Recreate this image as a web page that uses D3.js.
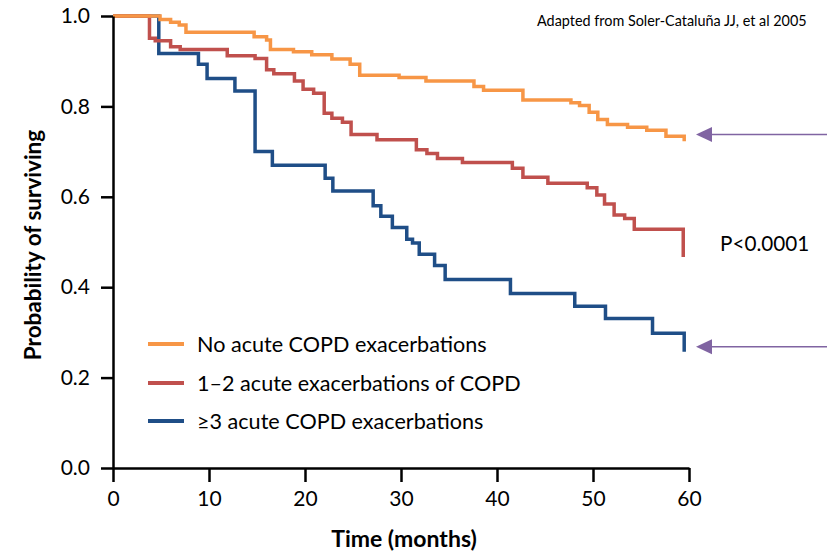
<!DOCTYPE html>
<html>
<head>
<meta charset="utf-8">
<script src="https://cdn.jsdelivr.net/npm/d3@7"></script>
<style>
  html, body { margin: 0; padding: 0; background: #fff; }
  svg { display: block; }
  text { font-family: Lato, "Open Sans", sans-serif; fill: #000; }
</style>
</head>
<body>
<svg id="chart" width="827" height="552"></svg>
<script>
// ---- Data ----
const seriesNames = ["No acute COPD exacerbations", "1\u20132 acute exacerbations of COPD", "\u22653 acute COPD exacerbations"];

const noneTimes = [0, 4.9, 6.0, 6.9, 7.6, 14.7, 16.0, 16.4, 18.8, 20.7, 22.8, 24.7, 25.7, 29.8, 32.6, 37.6, 38.6, 42.7, 47.7, 48.6, 49.6, 50.5, 51.5, 53.6, 55.6, 57.6, 59.5];
const noneSurv  = [1.0, 0.992, 0.986, 0.980, 0.964, 0.954, 0.947, 0.926, 0.921, 0.914, 0.905, 0.893, 0.869, 0.864, 0.856, 0.844, 0.836, 0.814, 0.808, 0.802, 0.787, 0.771, 0.760, 0.754, 0.747, 0.734, 0.723];

const oneTwoTimes = [0, 3.8, 4.4, 6.0, 7.0, 11.9, 14.8, 16.0, 16.75, 18.9, 19.8, 20.9, 22.0, 22.8, 23.9, 24.8, 27.5, 31.6, 32.7, 33.8, 36.4, 41.6, 42.7, 45.3, 49.4, 50.4, 51.2, 52.2, 53.3, 54.3, 59.4];
const oneTwoSurv  = [1.0, 0.951, 0.945, 0.932, 0.926, 0.912, 0.906, 0.881, 0.872, 0.856, 0.838, 0.829, 0.785, 0.774, 0.765, 0.738, 0.726, 0.704, 0.696, 0.685, 0.676, 0.663, 0.643, 0.630, 0.620, 0.604, 0.584, 0.560, 0.552, 0.528, 0.467];

const threeTimes = [0, 4.77, 8.9, 9.8, 12.7, 14.8, 16.6, 22.1, 22.9, 27.1, 27.9, 29.1, 30.6, 31.2, 31.9, 33.5, 34.6, 41.4, 48.1, 51.3, 56.2, 59.5];
const threeSurv  = [1.0, 0.917, 0.893, 0.862, 0.834, 0.700, 0.670, 0.641, 0.613, 0.580, 0.557, 0.532, 0.506, 0.498, 0.473, 0.448, 0.417, 0.386, 0.358, 0.331, 0.298, 0.257];

const xTicks = [0, 10, 20, 30, 40, 50, 60];
const yTicks = [0.0, 0.2, 0.4, 0.6, 0.8, 1.0];
const arrowLevels = [0.738, 0.268];
const pValueText = "P<0.0001";
const sourceText = "Adapted from Soler-Catalu\u00f1a JJ, et al 2005";
const xTitle = "Time (months)";
const yTitle = "Probability of surviving";

// ---- Drawing ----
const colors = ["#F79646", "#C0504D", "#1F4E87"];
const series = [
  {name: seriesNames[0], times: noneTimes, surv: noneSurv, color: colors[0]},
  {name: seriesNames[1], times: oneTwoTimes, surv: oneTwoSurv, color: colors[1]},
  {name: seriesNames[2], times: threeTimes, surv: threeSurv, color: colors[2]}
];

const svg = d3.select("#chart");
const x = d3.scaleLinear().domain([0, 60]).range([113, 689]);
const y = d3.scaleLinear().domain([0, 1]).range([468, 16]);

const line = d3.line()
  .x(d => x(d[0]))
  .y(d => y(d[1]))
  .curve(d3.curveStepAfter);

series.slice().reverse().forEach(s => {
  const pts = s.times.map((t, i) => [t, s.surv[i]]);
  svg.append("path")
    .attr("d", line(pts))
    .attr("fill", "none")
    .attr("stroke", s.color)
    .attr("stroke-width", 3.5)
    .attr("stroke-linejoin", "miter")
    .attr("stroke-linecap", "butt");
});

// axes
const yAxis = d3.axisLeft(y).tickValues(yTicks).tickFormat(d3.format(".1f")).tickSize(12).tickSizeOuter(0).tickPadding(11);
const xAxis = d3.axisBottom(x).tickValues(xTicks).tickFormat(d3.format("d")).tickSize(14).tickSizeOuter(0).tickPadding(9);

const gy = svg.append("g").attr("transform", `translate(${x(0)},0)`).call(yAxis);
const gx = svg.append("g").attr("transform", `translate(0,${y(0)})`).call(xAxis);
[gx, gy].forEach(g => {
  g.select(".domain").attr("stroke", "#000").attr("stroke-width", 2.5);
  g.selectAll(".tick line").attr("stroke", "#000").attr("stroke-width", 2.5);
  g.selectAll(".tick text").attr("font-family", "Lato, sans-serif").attr("font-size", 21).attr("fill", "#000");
});

// axis titles
svg.append("text")
  .attr("x", 404).attr("y", 547)
  .attr("text-anchor", "middle")
  .attr("font-size", 23).attr("font-weight", "bold")
  .text(xTitle);
svg.append("text")
  .attr("transform", `translate(41,245) rotate(-90)`)
  .attr("text-anchor", "middle")
  .attr("font-size", 22.5).attr("font-weight", "bold")
  .text(yTitle);

// legend
const legY = [344, 383, 421];
series.forEach((s, i) => {
  svg.append("line")
    .attr("x1", 148).attr("x2", 184)
    .attr("y1", legY[i]).attr("y2", legY[i])
    .attr("stroke", s.color).attr("stroke-width", 4);
  svg.append("text")
    .attr("x", 197).attr("y", legY[i])
    .attr("dy", "0.36em")
    .attr("font-size", 21.6)
    .text(s.name);
});

// p-value
svg.append("text")
  .attr("x", 720).attr("y", 244).attr("dy", "0.36em")
  .attr("font-size", 20.7)
  .text(pValueText);

// source
svg.append("text")
  .attr("x", 537).attr("y", 21).attr("dy", "0.36em")
  .attr("font-size", 14.4)
  .text(sourceText);

// arrows
const arrowColor = "#8064A2";
arrowLevels.forEach(v => {
  const yy = y(v);
  const tip = x(60) + 7;
  svg.append("line")
    .attr("x1", tip + 14).attr("x2", 827)
    .attr("y1", yy).attr("y2", yy)
    .attr("stroke", arrowColor).attr("stroke-width", 1.5);
  svg.append("path")
    .attr("d", `M${tip},${yy} L${tip + 16},${yy - 7.5} L${tip + 16},${yy + 7.5} Z`)
    .attr("fill", arrowColor);
});
</script>
</body>
</html>
